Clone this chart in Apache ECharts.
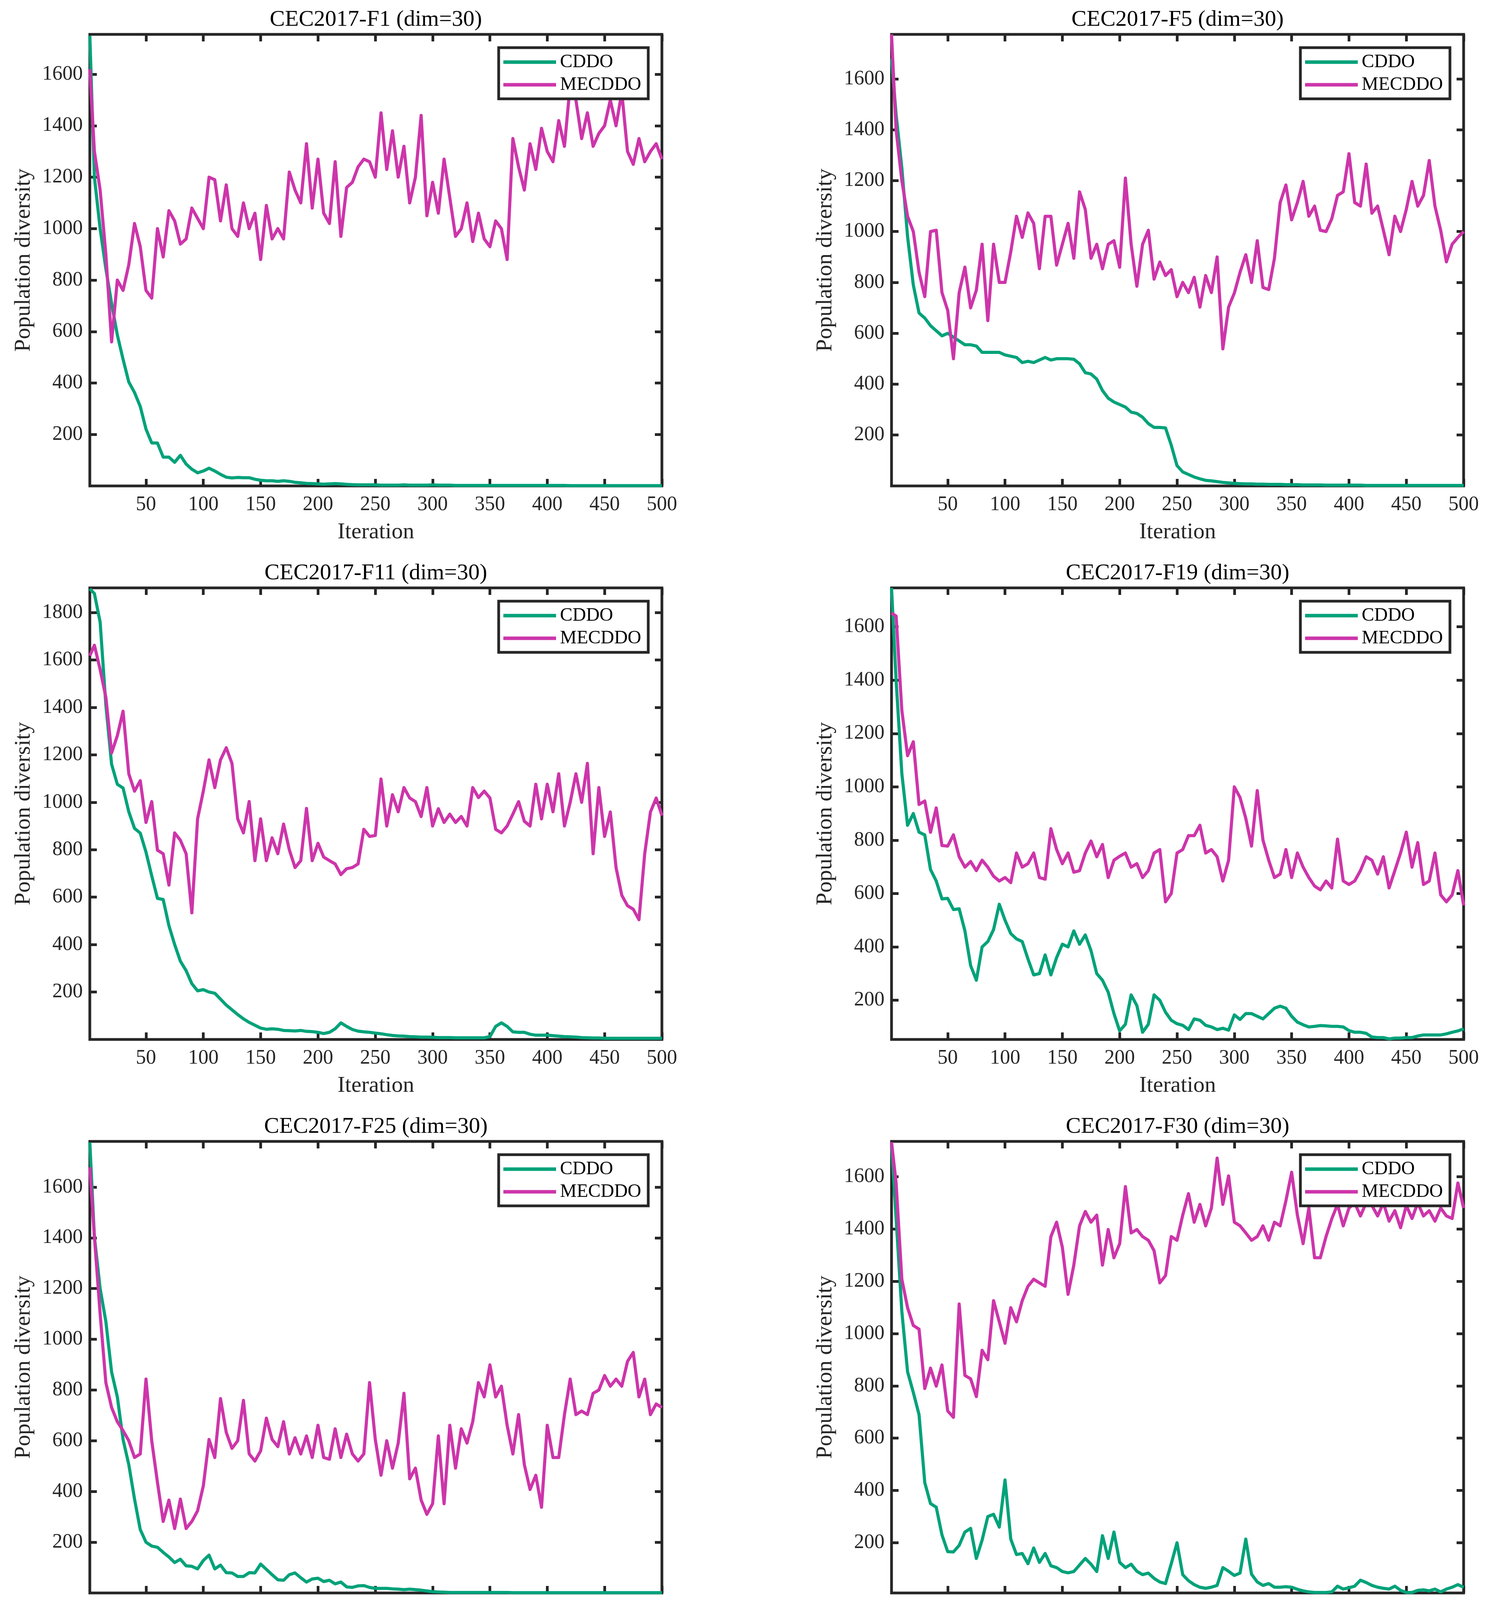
<!DOCTYPE html>
<html>
<head>
<meta charset="utf-8">
<title>Population diversity</title>
<script src="https://cdn.jsdelivr.net/npm/echarts@6/dist/echarts.min.js"></script>
<style>
  html, body { margin: 0; padding: 0; background: #fff; }
  #chart { width: 3813px; height: 4250px; }
</style>
</head>
<body>
<div id="chart"></div>
<script>
// iteration grid the curves were read at
var iters = [1,5,10,15,20,25,30,35,40,45,50,55,60,65,70,75,80,85,90,95,
  100,105,110,115,120,125,130,135,140,145,150,155,160,165,170,175,180,185,190,195,
  200,205,210,215,220,225,230,235,240,245,250,255,260,265,270,275,280,285,290,295,
  300,305,310,315,320,325,330,335,340,345,350,355,360,365,370,375,380,385,390,395,
  400,405,410,415,420,425,430,435,440,445,450,455,460,465,470,475,480,485,490,495,500];

var xTicks = [50,100,150,200,250,300,350,400,450,500];
var yTicks = [200,400,600,800,1000,1200,1400,1600];
var yTicksF11 = [200,400,600,800,1000,1200,1400,1600,1800];
var seriesNames = ['CDDO', 'MECDDO'];

var f1Cddo = [1750,1200,1000,844,709,587,492,404,363,309,
  221,167,167,112,112,92,119,85,65,51,
  58,69,58,45,34,31,33,32,32,26,
  22,20,20,18,20,18,14,12,10,9,
  8,7,8,9,8,6,5,4,4,4,
  4,3,3,3,3,4,3,3,3,3,
  4,3,3,3,2,2,2,2,2,2,
  2,2,2,2,2,2,2,2,2,2,
  2,2,2,2,1,1,1,1,1,1,
  1,1,1,1,1,1,1,1,1,1,
  1];
var f1Mecddo = [1620,1300,1150,900,560,800,760,860,1020,930,
  760,730,1000,890,1070,1030,940,960,1080,1040,
  1000,1200,1190,1030,1170,1000,970,1100,1000,1060,
  880,1090,960,1000,960,1220,1150,1100,1330,1080,
  1270,1060,1020,1260,970,1160,1180,1240,1270,1260,
  1200,1450,1230,1380,1200,1320,1100,1200,1440,1050,
  1180,1060,1270,1120,970,1000,1100,950,1060,960,
  930,1030,1000,880,1350,1240,1150,1330,1230,1390,
  1300,1260,1420,1320,1560,1500,1350,1450,1320,1370,
  1400,1500,1400,1530,1300,1250,1350,1260,1300,1330,
  1270];

var f5Cddo = [1680,1460,1250,980,790,680,660,630,610,590,
  600,585,570,555,555,550,525,525,525,525,
  515,510,505,485,490,485,495,505,495,500,
  500,500,498,480,445,440,420,375,345,330,
  320,310,290,285,270,245,230,230,228,160,
  80,55,45,35,28,22,20,17,14,12,
  10,9,8,8,7,7,6,6,6,5,
  5,5,4,4,4,4,3,3,3,3,
  3,3,3,2,2,2,2,2,2,2,
  2,2,2,2,2,2,2,2,2,2,
  2];
var f5Mecddo = [1775,1400,1200,1060,1000,840,744,1000,1005,760,
  690,500,760,860,700,770,950,650,950,800,
  800,920,1060,977,1073,1032,854,1060,1060,868,
  950,1032,895,1156,1087,895,950,854,950,964,
  860,1210,950,785,950,1005,813,880,827,850,
  744,800,760,820,703,827,760,900,539,703,
  758,840,909,800,964,780,772,895,1114,1183,
  1046,1114,1197,1060,1100,1005,1000,1050,1142,1156,
  1306,1114,1100,1265,1072,1100,1005,909,1060,1000,
  1087,1197,1100,1142,1279,1100,1005,881,950,977,
  1000];

var f11Cddo = [1900,1880,1760,1410,1160,1076,1060,960,890,870,
  790,690,595,590,480,400,330,290,235,205,
  210,200,195,170,145,125,105,87,72,60,
  48,43,45,43,38,37,36,38,34,33,
  30,25,30,45,70,55,42,35,32,30,
  27,24,20,17,15,14,12,11,10,10,
  9,8,8,8,7,7,7,7,7,7,
  12,55,70,55,32,30,30,22,18,18,
  18,16,14,12,11,10,8,7,6,6,
  5,5,5,5,5,5,5,5,5,5,
  5];
var f11Mecddo = [1618,1662,1560,1443,1208,1281,1384,1120,1047,1091,
  915,1003,798,783,651,871,840,783,534,930,
  1047,1179,1062,1179,1230,1164,930,871,1003,754,
  930,754,850,783,908,800,725,754,974,754,
  827,769,754,740,695,720,725,740,886,856,
  860,1098,900,1032,960,1062,1018,1003,940,1062,
  900,973,915,950,915,940,900,1062,1020,1047,
  1018,886,871,900,950,1003,920,900,1076,930,
  1076,960,1120,900,1000,1120,1000,1164,783,1062,
  856,959,725,608,564,549,505,783,959,1018,
  944];

var f19Cddo = [1746,1400,1050,856,900,830,820,690,647,580,
  582,540,543,460,330,275,400,420,465,560,
  500,450,430,420,355,295,300,370,295,360,
  410,400,460,410,445,386,300,275,230,150,
  85,110,220,180,80,110,220,200,155,125,
  112,106,90,130,125,106,100,90,95,88,
  145,128,150,150,140,130,150,170,178,170,
  140,118,108,100,102,105,104,102,102,100,
  86,80,80,76,62,60,60,55,58,58,
  60,60,66,70,70,70,70,74,80,85,
  93];
var f19Mecddo = [1652,1640,1287,1117,1169,934,947,830,921,780,
  778,820,738,699,720,686,725,699,665,647,
  660,641,752,699,712,752,660,654,843,765,
  712,752,680,686,752,797,738,784,660,725,
  740,752,699,712,660,686,752,765,569,600,
  752,765,817,817,856,752,765,738,647,725,
  1000,960,882,778,986,800,725,660,673,765,
  660,752,699,660,628,614,647,621,804,647,
  634,647,686,738,725,673,738,621,686,752,
  830,699,791,634,647,752,595,569,595,686,
  556];

var f25Cddo = [1776,1404,1200,1070,871,773,605,506,370,250,
  200,185,180,160,142,120,133,107,105,95,
  128,149,95,110,80,79,65,65,80,79,
  114,93,72,52,50,72,79,60,43,55,
  58,45,50,36,43,24,22,28,29,22,
  18,18,18,16,15,13,15,13,11,8,
  5,4,3,2,2,2,2,2,2,2,
  2,2,2,2,1,1,1,1,1,1,
  1,1,1,1,1,1,1,1,1,1,
  1,1,1,1,1,1,1,1,1,1,
  1];
var f25Mecddo = [1678,1404,1100,829,731,675,640,600,534,548,
  843,600,436,282,366,254,370,254,282,324,
  422,605,534,766,633,570,600,759,548,520,
  560,689,605,577,675,548,612,548,619,534,
  661,534,527,647,534,626,548,520,548,829,
  605,464,600,492,591,787,450,492,366,310,
  352,619,352,661,492,647,591,675,829,773,
  899,773,815,661,548,703,506,408,464,338,
  661,534,534,703,843,703,717,703,787,800,
  857,815,843,815,913,948,773,843,703,745,
  731];

var f30Cddo = [1725,1440,1085,854,775,690,430,350,336,230,
  166,165,190,241,255,140,210,300,309,260,
  440,214,155,159,120,180,125,159,112,105,
  90,85,90,115,140,118,90,227,140,241,
  125,105,118,91,78,84,64,50,44,120,
  200,78,55,40,30,26,30,37,105,91,
  75,84,214,80,50,37,44,30,30,32,
  30,22,16,12,10,10,10,12,34,23,
  28,34,57,48,37,30,26,23,34,18,
  10,10,18,20,16,23,12,23,30,40,
  30];
var f30Mecddo = [1732,1576,1208,1099,1031,1017,790,868,799,880,
  704,680,1113,840,827,759,936,900,1126,1045,
  963,1099,1045,1126,1181,1208,1194,1181,1371,1426,
  1330,1150,1262,1412,1467,1426,1453,1262,1398,1290,
  1344,1562,1385,1398,1371,1357,1317,1194,1222,1371,
  1357,1453,1535,1426,1494,1412,1480,1671,1494,1603,
  1426,1412,1385,1357,1371,1412,1357,1426,1412,1508,
  1617,1453,1344,1480,1290,1290,1371,1439,1494,1412,
  1480,1500,1450,1500,1490,1450,1500,1430,1470,1405,
  1490,1440,1500,1450,1470,1430,1480,1450,1440,1576,
  1480];

var panels = [
  { title: 'CEC2017-F1 (dim=30)',  cddo: f1Cddo,  mecddo: f1Mecddo,  yMin: 0,  yMax: 1755, ticks: yTicks },
  { title: 'CEC2017-F5 (dim=30)',  cddo: f5Cddo,  mecddo: f5Mecddo,  yMin: 0,  yMax: 1775, ticks: yTicks },
  { title: 'CEC2017-F11 (dim=30)', cddo: f11Cddo, mecddo: f11Mecddo, yMin: 0,  yMax: 1904, ticks: yTicksF11 },
  { title: 'CEC2017-F19 (dim=30)', cddo: f19Cddo, mecddo: f19Mecddo, yMin: 53, yMax: 1746, ticks: yTicks },
  { title: 'CEC2017-F25 (dim=30)', cddo: f25Cddo, mecddo: f25Mecddo, yMin: 0,  yMax: 1780, ticks: yTicks },
  { title: 'CEC2017-F30 (dim=30)', cddo: f30Cddo, mecddo: f30Mecddo, yMin: 8,  yMax: 1735, ticks: yTicks }
];

var W = 3813;
var colLeft = [230, 2283], colW = 1465;
var rowTop = [88, 1505, 2922], rowH = 1156;
var green = '#00a27a', magenta = '#cd35aa', frame = '#262626';
var font = 'Liberation Serif';

var chart = echarts.init(document.getElementById('chart'), null, { renderer: 'canvas' });

var grids = [], xAxes = [], yAxes = [], titles = [], legends = [], series = [];

function pairs(vals) {
  return iters.map(function(x, k) { return [x, vals[k]]; });
}
function plain(v) { return String(v); }

panels.forEach(function(p, i) {
  var gl = colLeft[i % 2], gt = rowTop[Math.floor(i / 2)];
  grids.push({ left: gl, top: gt, width: colW, height: rowH, show: true,
    borderColor: frame, borderWidth: 7, backgroundColor: 'transparent' });

  titles.push({ text: p.title, left: gl + colW / 2, top: gt - 66, textAlign: 'center', padding: 0,
    textStyle: { fontFamily: font, fontSize: 58, fontWeight: 'normal', color: '#000' } });

  // box-style axes: ticks point inward on all four sides
  var tick = { show: true, inside: true, length: 18, lineStyle: { color: frame, width: 7 } };
  var noLine = { show: false, onZero: false };
  xAxes.push({
    type: 'value', gridIndex: i, min: 1, max: 500, position: 'bottom',
    axisLine: noLine,
    axisTick: Object.assign({ customValues: xTicks }, tick),
    axisLabel: { customValues: xTicks, formatter: plain, margin: 22, fontFamily: font, fontSize: 52, color: frame },
    splitLine: { show: false },
    name: 'Iteration', nameLocation: 'middle', nameGap: 90,
    nameTextStyle: { fontFamily: font, fontSize: 58, color: frame }
  });
  xAxes.push({
    type: 'value', gridIndex: i, min: 1, max: 500, position: 'top',
    axisLine: noLine,
    axisTick: Object.assign({ customValues: xTicks }, tick),
    axisLabel: { show: false }, splitLine: { show: false }
  });
  yAxes.push({
    type: 'value', gridIndex: i, min: p.yMin, max: p.yMax, position: 'left',
    axisLine: noLine,
    axisTick: Object.assign({ customValues: p.ticks }, tick),
    axisLabel: { customValues: p.ticks, formatter: plain, margin: 18, fontFamily: font, fontSize: 52, color: frame },
    splitLine: { show: false },
    name: 'Population diversity', nameLocation: 'middle', nameGap: 140,
    nameTextStyle: { fontFamily: font, fontSize: 58, color: frame }
  });
  yAxes.push({
    type: 'value', gridIndex: i, min: p.yMin, max: p.yMax, position: 'right',
    axisLine: noLine,
    axisTick: Object.assign({ customValues: p.ticks }, tick),
    axisLabel: { show: false }, splitLine: { show: false }
  });

  legends.push({
    data: seriesNames, orient: 'vertical',
    right: W - (gl + colW - 35), top: gt + 34,
    padding: [13, 18, 12, 12], itemGap: 10,
    itemWidth: 135, itemHeight: 9, icon: 'rect',
    borderColor: frame, borderWidth: 7, backgroundColor: '#fff',
    textStyle: { fontFamily: font, fontSize: 48, lineHeight: 48, color: '#000', padding: [0, 0, 0, 5] }
  });

  series.push({
    name: seriesNames[0], type: 'line', xAxisIndex: 2 * i, yAxisIndex: 2 * i,
    data: pairs(p.cddo), showSymbol: false, symbol: 'none',
    lineStyle: { color: green, width: 8, join: 'round' }, itemStyle: { color: green }
  });
  series.push({
    name: seriesNames[1], type: 'line', xAxisIndex: 2 * i, yAxisIndex: 2 * i,
    data: pairs(p.mecddo), showSymbol: false, symbol: 'none',
    lineStyle: { color: magenta, width: 8, join: 'round' }, itemStyle: { color: magenta }
  });
});

chart.setOption({
  animation: false,
  backgroundColor: '#fff',
  title: titles,
  legend: legends,
  grid: grids,
  xAxis: xAxes,
  yAxis: yAxes,
  series: series
});
window.addEventListener('resize', function() { chart.resize(); });
</script>
</body>
</html>
